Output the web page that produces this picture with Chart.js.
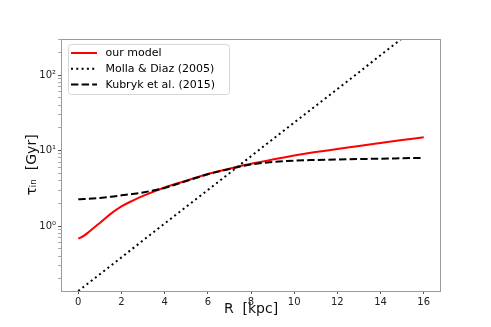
<!DOCTYPE html>
<html>
<head>
<meta charset="utf-8">
<script src="https://cdn.jsdelivr.net/npm/chart.js@4"></script>
<style>
  html, body { margin: 0; padding: 0; background: #fff; }
  #wrap { width: 491px; height: 327px; }
</style>
</head>
<body>
<div id="wrap"><canvas id="grafica" width="491" height="327"></canvas></div>
<script>
// ——— Datos ——————————————————————————————————————
const radios = [0, 0.25, 0.5, 1, 1.5, 2, 2.5, 3, 4, 5, 6, 7, 7.5, 8, 9, 10, 11, 12, 13, 14, 15, 16];
const nuestroModelo = [0.68, 0.74, 0.84, 1.10, 1.45, 1.82, 2.16, 2.51, 3.24, 3.98, 4.9, 5.75, 6.24, 6.68, 7.59, 8.61, 9.55, 10.47, 11.5, 12.6, 13.8, 15.0];
const kubryk = [2.26, 2.28, 2.3, 2.36, 2.44, 2.55, 2.66, 2.79, 3.2, 3.95, 4.85, 5.7, 6.15, 6.55, 7.05, 7.35, 7.5, 7.62, 7.72, 7.8, 7.9, 8.0];
const radiosMolla = [0, 2, 4, 6, 8, 10, 12, 14, 16];
const molla = [0.138, 0.385, 1.08, 3.0, 8.4, 23.5, 65, 183, 510];

const ticksX = [0, 2, 4, 6, 8, 10, 12, 14, 16];
const ticksYMayores = [1, 10, 100];
const etiquetasY = { 1: "10\u2070", 10: "10\u00B9", 100: "10\u00B2" };
const ticksYMenores = [0.2, 0.3, 0.4, 0.5, 0.6, 0.7, 0.8, 0.9, 2, 3, 4, 5, 6, 7, 8, 9, 20, 30, 40, 50, 60, 70, 80, 90, 200, 300];

const leyenda = [
    { texto: "our model", color: "#ff0000", dash: [] },
    { texto: "Molla & Diaz (2005)", color: "#000000", dash: [2, 3.3] },
    { texto: "Kubryk et al. (2015)", color: "#000000", dash: [7.4, 3.2] },
];

const FUENTE = "'DejaVu Sans', sans-serif";

function puntos(xs, ys) {
    return xs.map((x, i) => ({ x: x, y: ys[i] }));
}

// ——— Plugins ——————————————————————————————————————
const marcoYLeyenda = {
    id: "marcoYLeyenda",
    afterDraw(chart) {
        const { ctx, chartArea } = chart;
        ctx.save();
        // marco
        ctx.strokeStyle = "#9a9a9a";
        ctx.lineWidth = 1;
        ctx.strokeRect(chartArea.left + 0.5, chartArea.top + 0.5,
            chartArea.right - chartArea.left - 1, chartArea.bottom - chartArea.top);

        // leyenda
        const x0 = 68, y0 = 44, w = 161, h = 50;
        ctx.beginPath();
        ctx.roundRect(x0 + 0.5, y0 + 0.5, w, h, 3);
        ctx.fillStyle = "rgba(255,255,255,0.8)";
        ctx.fill();
        ctx.strokeStyle = "#d6d6d6";
        ctx.stroke();

        ctx.font = "11px " + FUENTE;
        ctx.textBaseline = "middle";
        leyenda.forEach((item, i) => {
            const y = y0 + 9 + i * 15.8;
            ctx.beginPath();
            ctx.setLineDash(item.dash);
            ctx.strokeStyle = item.color;
            ctx.lineWidth = 2;
            ctx.moveTo(71, y);
            ctx.lineTo(97, y);
            ctx.stroke();
            ctx.setLineDash([]);
            ctx.fillStyle = "#000";
            ctx.fillText(item.texto, 105.5, y + 0.5);
        });
        ctx.restore();
    },
};

// ——— Principal ——————————————————————————————————————
const ctx = document.getElementById("grafica").getContext("2d");
new Chart(ctx, {
    type: "line",
    data: {
        datasets: [
            {
                label: "our model",
                data: puntos(radios, nuestroModelo),
                borderColor: "#ff0000",
                borderWidth: 2,
                pointRadius: 0,
                cubicInterpolationMode: "monotone",
                fill: false,
                order: 1,
            },
            {
                label: "Molla & Diaz (2005)",
                data: puntos(radiosMolla, molla),
                borderColor: "#000000",
                borderWidth: 2,
                borderDash: [2, 3.3],
                pointRadius: 0,
                tension: 0,
                fill: false,
                order: 2,
            },
            {
                label: "Kubryk et al. (2015)",
                data: puntos(radios, kubryk),
                borderColor: "#000000",
                borderWidth: 2,
                borderDash: [7.4, 3.2],
                pointRadius: 0,
                cubicInterpolationMode: "monotone",
                fill: false,
                order: 0,
            },
        ],
    },
    options: {
        responsive: false,
        animation: false,
        events: [],
        layout: { padding: { top: 39, right: 50, left: 0, bottom: 0 } },
        plugins: { legend: { display: false }, tooltip: { enabled: false } },
        scales: {
            x: {
                type: "linear",
                min: -0.8,
                max: 16.8,
                afterBuildTicks: (s) => { s.ticks = ticksX.map((v) => ({ value: v })); },
                afterFit: (s) => { s.height = 36; },
                border: { display: false },
                grid: { drawOnChartArea: false, tickLength: 3, color: "#555" },
                ticks: {
                    padding: 2,
                    maxRotation: 0,
                    color: "#222",
                    font: { family: FUENTE, size: 10 },
                    callback: (v) => String(v),
                },
                title: {
                    display: true,
                    text: "R  [kpc]",
                    color: "#111",
                    font: { family: FUENTE, size: 14 },
                    padding: { top: 0, bottom: 9 },
                },
            },
            y: {
                type: "logarithmic",
                min: 0.138,
                max: 300,
                afterBuildTicks: (s) => {
                    s.ticks = ticksYMayores.map((v) => ({ value: v, major: true }))
                        .concat(ticksYMenores.map((v) => ({ value: v, major: false })))
                        .sort((a, b) => a.value - b.value);
                },
                afterFit: (s) => { s.width = 61; },
                border: { display: false },
                grid: {
                    drawOnChartArea: false,
                    tickLength: 3,
                    tickColor: (c) => (c.tick && c.tick.major ? "#555" : "#aaa"),
                },
                ticks: {
                    padding: 2,
                    color: "#222",
                    font: { family: FUENTE, size: 10 },
                    autoSkip: false,
                    callback: (v) => etiquetasY[v] || "",
                },
                title: {
                    display: true,
                    text: "\u03C4\u1D62\u2099  [Gyr]",
                    color: "#111",
                    font: { family: FUENTE, size: 14 },
                    padding: { top: 24, bottom: 0 },
                },
            },
        },
    },
    plugins: [marcoYLeyenda],
});
</script>
</body>
</html>
